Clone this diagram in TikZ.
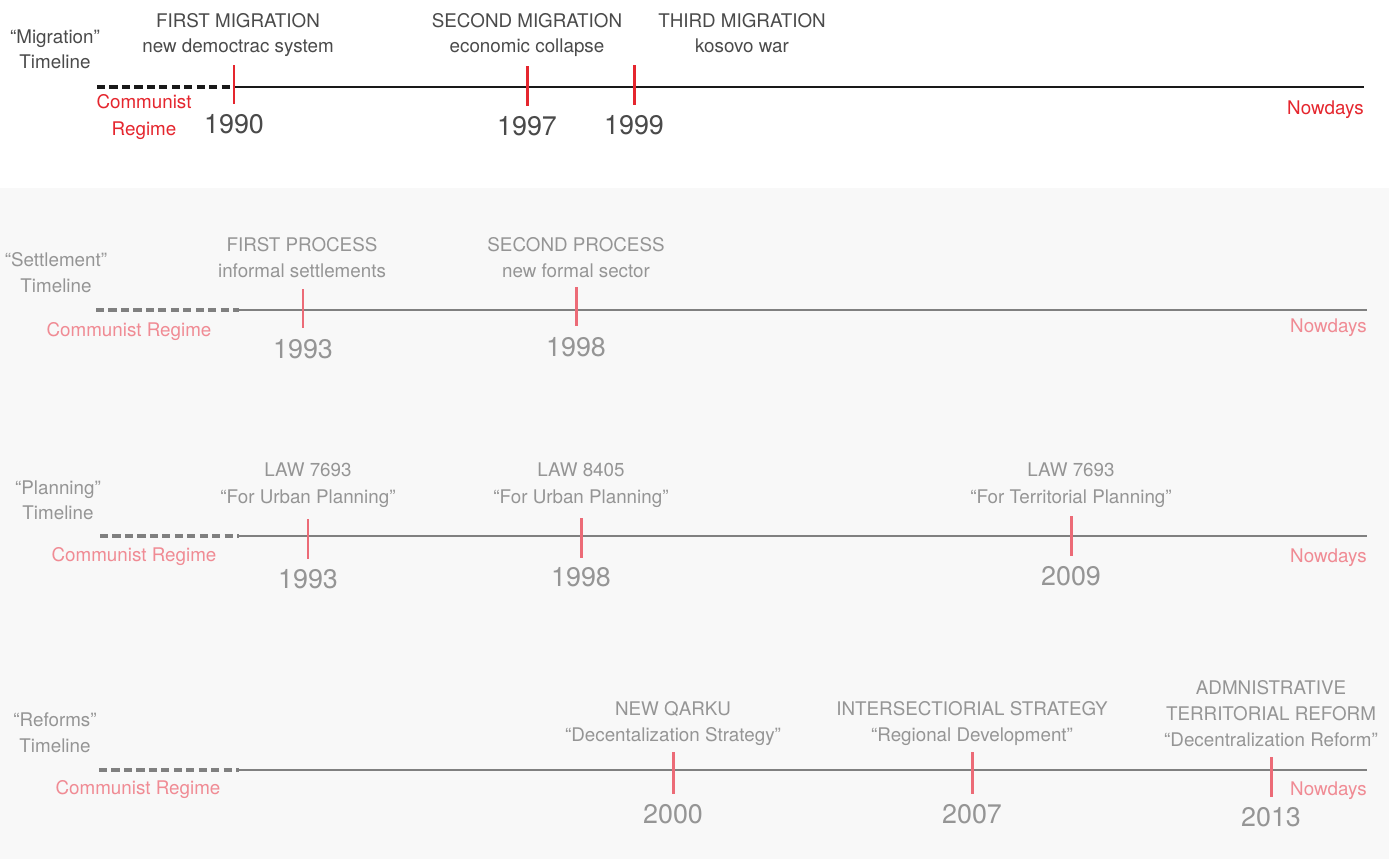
\documentclass[tikz,border=0pt]{standalone}
\usepackage{fontspec}
\setmainfont{TeX Gyre Heros}
\usetikzlibrary{positioning}
\definecolor{inktop}{HTML}{4A4A4A}
\definecolor{inkgrey}{HTML}{959595}
\definecolor{linegrey}{HTML}{808080}
\definecolor{redtop}{HTML}{E5262E}
\definecolor{redsoft}{HTML}{EC6B77}
\definecolor{pinktext}{HTML}{F08B94}
\definecolor{bandgrey}{HTML}{F8F8F8}

\begin{document}
\begin{tikzpicture}[x=0.02cm,y=-0.02cm,
  every node/.style={inner sep=0pt,anchor=base},
  head/.style={font=\fontsize{10.7}{12}\selectfont},
  yr/.style={font=\fontsize{15.3}{18}\selectfont},
  dashline/.style={line width=2.1pt,dash pattern=on 4.6pt off 2.5pt},
  solidline/.style={line width=1.45pt},
  tickmark/.style={line width=1.7pt}]
\useasboundingbox (0,0) rectangle (1389,859);
\fill[white] (0,0) rectangle (1389,188);
\fill[bandgrey] (0,188) rectangle (1389,859);

% migration timeline
\coordinate (r1s) at (97,87);
\coordinate (r1d) at (234,87);
\coordinate (r1e) at (1364,87);
\draw[dashline,black!90] (r1s) -- (r1d);
\draw[solidline,black!90] (r1d) -- (r1e);
\draw[tickmark,redtop] (234,65) coordinate (t90a) -- (234,104) coordinate (t90b);
\draw[tickmark,redtop] (527,66) coordinate (t97a) -- (527,106) coordinate (t97b);
\draw[tickmark,redtop] (634,65) coordinate (t99a) -- (634,105) coordinate (t99b);
\begin{scope}[every node/.append style={text=inktop}]
\node[head] (mig) at (55,43) {“Migration”};
\node[head] (migtl) at (55,68) {Timeline};
\node[head] (m1h) at (238,27) {FIRST MIGRATION};
\node[head] (m1s) at (238,52) {new democtrac system};
\node[head] (m2h) at (527,27) {SECOND MIGRATION};
\node[head] (m2s) at (527,52) {economic collapse};
\node[head] (m3h) at (742,27) {THIRD MIGRATION};
\node[head] (m3s) at (742,52) {kosovo war};
\node[yr] (y90) at (234,133) {1990};
\node[yr] (y97) at (527,135) {1997};
\node[yr] (y99) at (634,134) {1999};
\end{scope}
\node[head,text=redtop] (com1) at (144,108) {Communist};
\node[head,text=redtop] (reg1) at (144,135) {Regime};
\node[head,text=redtop,anchor=base east] (now1) at (1364,114) {Nowdays};

% settlement timeline
\coordinate (r2s) at (96,310);
\coordinate (r2d) at (239,310);
\coordinate (r2e) at (1367,310);
\draw[dashline,linegrey] (r2s) -- (r2d);
\draw[solidline,linegrey] (r2d) -- (r2e);
\draw[tickmark,redsoft] (303,289) coordinate (s93a) -- (303,328) coordinate (s93b);
\draw[tickmark,redsoft] (576,287) coordinate (s98a) -- (576,326) coordinate (s98b);
\begin{scope}[every node/.append style={text=inkgrey}]
\node[head] (set) at (56,266) {“Settlement”};
\node[head] (settl) at (56,292) {Timeline};
\node[head] (p1h) at (302,251) {FIRST PROCESS};
\node[head] (p1s) at (302,277) {informal settlements};
\node[head] (p2h) at (576,251) {SECOND PROCESS};
\node[head] (p2s) at (576,277) {new formal sector};
\node[yr] (y93s) at (303,358) {1993};
\node[yr] (y98s) at (576,356) {1998};
\end{scope}
\node[head,text=pinktext] (com2) at (129,336) {Communist Regime};
\node[head,text=pinktext,anchor=base east] (now2) at (1367,332) {Nowdays};

% planning timeline
\coordinate (r3s) at (100,536);
\coordinate (r3d) at (239,536);
\coordinate (r3e) at (1367,536);
\draw[dashline,linegrey] (r3s) -- (r3d);
\draw[solidline,linegrey] (r3d) -- (r3e);
\draw[tickmark,redsoft] (308,519) coordinate (l93a) -- (308,559) coordinate (l93b);
\draw[tickmark,redsoft] (581,518) coordinate (l98a) -- (581,558) coordinate (l98b);
\draw[tickmark,redsoft] (1071,516) coordinate (l09a) -- (1071,556) coordinate (l09b);
\begin{scope}[every node/.append style={text=inkgrey}]
\node[head] (pla) at (58,494) {“Planning”};
\node[head] (platl) at (58,519) {Timeline};
\node[head] (law1h) at (308,476) {LAW 7693};
\node[head] (law1s) at (308,503) {“For Urban Planning”};
\node[head] (law2h) at (581,476) {LAW 8405};
\node[head] (law2s) at (581,503) {“For Urban Planning”};
\node[head] (law3h) at (1071,476) {LAW 7693};
\node[head] (law3s) at (1071,503) {“For Territorial Planning”};
\node[yr] (y93l) at (308,588) {1993};
\node[yr] (y98l) at (581,586) {1998};
\node[yr] (y09l) at (1071,585) {2009};
\end{scope}
\node[head,text=pinktext] (com3) at (134,561) {Communist Regime};
\node[head,text=pinktext,anchor=base east] (now3) at (1367,562) {Nowdays};

% reforms timeline
\coordinate (r4s) at (99,770);
\coordinate (r4d) at (239,770);
\coordinate (r4e) at (1367,770);
\draw[dashline,linegrey] (r4s) -- (r4d);
\draw[solidline,linegrey] (r4d) -- (r4e);
\draw[tickmark,redsoft] (673,752) coordinate (f00a) -- (673,794) coordinate (f00b);
\draw[tickmark,redsoft] (972,752) coordinate (f07a) -- (972,794) coordinate (f07b);
\draw[tickmark,redsoft] (1271,757) coordinate (f13a) -- (1271,797) coordinate (f13b);
\begin{scope}[every node/.append style={text=inkgrey}]
\node[head] (ref) at (55,726) {“Reforms”};
\node[head] (reftl) at (55,752) {Timeline};
\node[head] (q1h) at (673,715) {NEW QARKU};
\node[head] (q1s) at (673,741) {“Decentalization Strategy”};
\node[head] (q2h) at (972,715) {INTERSECTIORIAL STRATEGY};
\node[head] (q2s) at (972,741) {“Regional Development”};
\node[head] (q3h) at (1271,694) {ADMNISTRATIVE};
\node[head] (q3m) at (1271,720) {TERRITORIAL REFORM};
\node[head] (q3s) at (1271,746) {“Decentralization Reform”};
\node[yr] (y00r) at (673,823) {2000};
\node[yr] (y07r) at (972,823) {2007};
\node[yr] (y13r) at (1271,826) {2013};
\end{scope}
\node[head,text=pinktext] (com4) at (138,794) {Communist Regime};
\node[head,text=pinktext,anchor=base east] (now4) at (1367,795) {Nowdays};
\end{tikzpicture}
\end{document}
